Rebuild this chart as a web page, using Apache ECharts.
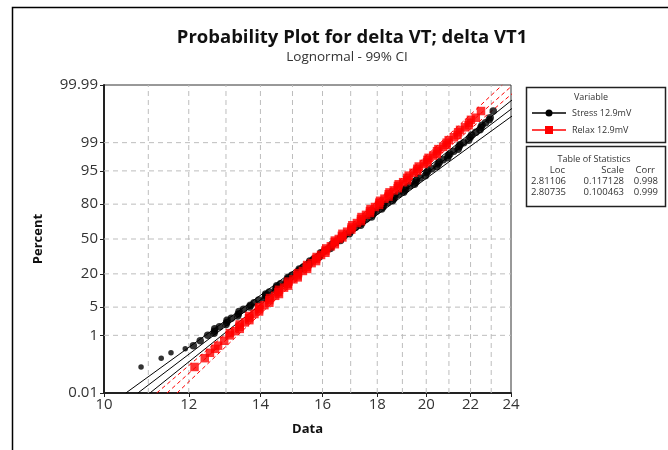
<!DOCTYPE html>
<html><head><meta charset="utf-8">
<script src="https://cdn.jsdelivr.net/npm/echarts@6/dist/echarts.min.js"></script>
<style>html,body{margin:0;padding:0;background:#fff}#c{width:668px;height:450px}</style>
</head><body><div id="c"></div>
<script>
// ---- data (x in data units, percent in %) ----
const xTickLabels = [10, 12, 14, 16, 18, 20, 22, 24];
const xGridValues = [11, 12, 13, 14, 15, 16, 17, 18, 19, 20, 21, 22, 23];
const yTickLabels = [0.01, 1, 5, 20, 50, 80, 95, 99, 99.99];
const yGridValues = [1, 5, 20, 50, 80, 95, 99];

const percentPos = [0.1,0.2,0.3,0.4,0.5,0.7,1,1.3,1.7,2.2,2.8,3.5,4.5,5.5,7,8.5,10,12,14,16.5,19,22,25,28,31.5,35,39,43,47,50,53,57,61,65,68.5,72,75,78,81,83.5,86,88,90,91.5,93,94.5,95.5,96.5,97.2,97.8,98.3,98.7,99,99.3,99.5,99.65,99.75,99.83,99.9];
const stressX = [10.83,11.31,11.55,11.91,12.12,12.30,12.50,12.68,12.82,13.02,13.15,13.35,13.50,13.70,13.95,14.16,14.27,14.49,14.62,14.84,14.98,15.20,15.35,15.55,15.70,15.92,16.08,16.31,16.47,16.64,16.76,16.99,17.17,17.41,17.58,17.82,17.97,18.22,18.40,18.65,18.85,19.10,19.30,19.55,19.74,20.02,20.25,20.52,20.74,20.98,21.22,21.46,21.68,21.98,22.25,22.50,22.72,22.95,23.10];
const relaxX = [12.15,12.42,12.56,12.70,12.78,12.95,13.10,13.26,13.38,13.54,13.66,13.82,13.96,14.12,14.27,14.45,14.55,14.73,14.85,15.03,15.16,15.34,15.47,15.63,15.78,15.95,16.10,16.29,16.43,16.57,16.68,16.87,17.03,17.23,17.38,17.57,17.72,17.91,18.08,18.28,18.45,18.65,18.82,19.03,19.20,19.46,19.62,19.89,20.05,20.30,20.47,20.74,20.90,21.22,21.42,21.75,21.93,22.25,22.50];

// second set of plotted points (between the first set's positions)
const percentPos2 = [1.15,1.5,1.95,2.5,3.15,4,5,6.2,7.7,9.2,11,13,15.2,17.7,20.5,23.5,26.5,29.7,33.2,37,41,45,48.5,51.5,55,59,63,66.7,70.2,73.5,76.5,79.5,82.2,84.7,87,89,90.7,92.2,93.7,95,96,96.8,97.5,98,98.5,98.85,99.15,99.4,99.58,99.7,99.8];
const stressX2 = [12.67,12.69,13.00,13.03,13.33,13.37,13.68,13.81,14.14,14.16,14.46,14.50,14.81,14.85,15.17,15.22,15.53,15.57,15.89,15.94,16.27,16.33,16.63,16.64,16.95,17.02,17.37,17.44,17.78,17.84,18.17,18.25,18.60,18.69,19.05,19.14,19.50,19.58,19.96,20.07,20.46,20.57,20.94,21.04,21.42,21.51,21.91,22.05,22.45,22.55,22.90];
const relaxX2 = [13.11,13.39,13.39,13.67,13.67,13.96,13.97,14.27,14.29,14.57,14.57,14.86,14.87,15.17,15.18,15.48,15.48,15.78,15.80,16.10,16.13,16.43,16.43,16.70,16.70,17.02,17.06,17.38,17.40,17.72,17.74,18.07,18.11,18.44,18.48,18.81,18.85,19.19,19.26,19.61,19.68,20.04,20.10,20.46,20.53,20.89,20.99,21.39,21.51,21.91,22.02];

// fitted lines and 99% CI, as [x, percent]
const stressFit  = [[10.756,0.01],[16.628,50],[25.70,99.99]];
const stressCiLo = [[10.481,0.01],[12.439,1],[14.133,10],[16.476,50],[19.083,90],[21.453,99],[25.04,99.99]];
const stressCiHi = [[11.038,0.01],[12.888,1],[14.489,10],[16.782,50],[19.563,90],[22.226,99],[26.37,99.99]];
const relaxFit   = [[11.45,0.01],[16.566,50],[24.10,99.99]];
const relaxCiLo  = [[11.20,0.01],[12.95,1],[14.414,10],[16.439,50],[18.649,90],[20.621,99],[23.555,99.99]];
const relaxCiHi  = [[11.70,0.01],[13.33,1],[14.716,10],[16.693,50],[19.039,90],[21.240,99],[24.596,99.99]];

const statsHeader = ['Loc','Scale','Corr'];
const statsRows = [['2.81106','0.117128','0.998'],['2.80735','0.100463','0.999']];

// ---- scales ----
function probit(p){
  const a=[-3.969683028665376e+01,2.209460984245205e+02,-2.759285104469687e+02,1.383577518672690e+02,-3.066479806614716e+01,2.506628277459239e+00];
  const b=[-5.447609879822406e+01,1.615858368580409e+02,-1.556989798598866e+02,6.680131188771972e+01,-1.328068155288572e+01];
  const c=[-7.784894002430293e-03,-3.223964580411365e-01,-2.400758277161838e+00,-2.549732539343734e+00,4.374664141464968e+00,2.938163982698783e+00];
  const d=[7.784695709041462e-03,3.224671290700398e-01,2.445134137142996e+00,3.754408661907416e+00];
  const pl=0.02425, ph=1-pl; let q,r;
  if(p<pl){q=Math.sqrt(-2*Math.log(p));return (((((c[0]*q+c[1])*q+c[2])*q+c[3])*q+c[4])*q+c[5])/((((d[0]*q+d[1])*q+d[2])*q+d[3])*q+1);}
  if(p<=ph){q=p-0.5;r=q*q;return (((((a[0]*r+a[1])*r+a[2])*r+a[3])*r+a[4])*r+a[5])*q/(((((b[0]*r+b[1])*r+b[2])*r+b[3])*r+b[4])*r+1);}
  q=Math.sqrt(-2*Math.log(1-p));return -(((((c[0]*q+c[1])*q+c[2])*q+c[3])*q+c[4])*q+c[5])/((((d[0]*q+d[1])*q+d[2])*q+d[3])*q+1);
}
const zOf = pct => probit(pct/100);
const lx = v => Math.log(v);
const pt = (x,p) => [lx(x), zOf(p)];
const X_MIN = lx(10), X_MAX = lx(24), Y_MIN = zOf(0.01), Y_MAX = zOf(99.99);

const gridSeries = [];
xGridValues.forEach(v => gridSeries.push({type:'line', data:[[lx(v),Y_MIN],[lx(v),Y_MAX]], symbol:'none', silent:true, z:1,
  lineStyle:{color:'#bdbdbd', width:1, type:[5,4]}}));
yGridValues.forEach(v => gridSeries.push({type:'line', data:[[X_MIN,zOf(v)],[X_MAX,zOf(v)]], symbol:'none', silent:true, z:1,
  lineStyle:{color:'#bdbdbd', width:1, type:[5,4]}}));

const lineS = (arr, color, dashed) => ({type:'line', data:arr.map(a=>pt(a[0],a[1])), symbol:'none', silent:true, z:3,
  lineStyle:{color, width:1, type: dashed ? [4,3] : 'solid'}});

const stressPts = stressX.map((x,i)=>pt(x,percentPos[i])).concat(stressX2.map((x,i)=>pt(x,percentPos2[i])));
const relaxPts = relaxX.map((x,i)=>pt(x,percentPos[i])).concat(relaxX2.map((x,i)=>pt(x,percentPos2[i])));

const font = '"Open Sans", "Noto Sans", sans-serif';
const txt = (x,y,text,size,align,weight,fill) => ({type:'text', x, y, silent:true, style:{text, font:(weight||'normal')+' '+size+'px '+font, fill:fill||'#333',
  align:align, verticalAlign:'middle', textAlign:align, textVerticalAlign:'middle'}});

const chart = echarts.init(document.getElementById('c'), null, {renderer:'canvas'});
chart.setOption({
  animation:false,
  backgroundColor:'#fff',
  grid:{left:104, top:85, width:407, height:308, show:true, borderColor:'#333', borderWidth:1},
  xAxis:{type:'value', min:X_MIN, max:X_MAX, name:'Data', nameLocation:'middle', nameGap:30,
    nameTextStyle:{fontFamily:font, fontWeight:'bold', fontSize:13, color:'#111'},
    axisLine:{show:true, onZero:false, lineStyle:{color:'#222', width:2}},
    axisTick:{show:true, length:4, customValues:xTickLabels.map(lx), lineStyle:{color:'#222'}},
    axisLabel:{customValues:xTickLabels.map(lx), formatter:v=>String(Math.round(Math.exp(v))), fontFamily:font, fontSize:15, color:'#333', margin:4},
    splitLine:{show:false}},
  yAxis:{type:'value', min:Y_MIN, max:Y_MAX, name:'Percent', nameLocation:'middle', nameGap:59,
    nameTextStyle:{fontFamily:font, fontWeight:'bold', fontSize:13, color:'#111'},
    axisLine:{show:true, onZero:false, lineStyle:{color:'#222', width:2}},
    axisTick:{show:true, length:4, customValues:yTickLabels.map(zOf), lineStyle:{color:'#222'}},
    axisLabel:{customValues:yTickLabels.map(zOf), fontFamily:font, fontSize:15, color:'#333', margin:6,
      formatter:v=>{let best=yTickLabels[0];yTickLabels.forEach(l=>{if(Math.abs(zOf(l)-v)<Math.abs(zOf(best)-v))best=l;});
        return (best===0.01||best===99.99)?best.toFixed(2):String(best);}},
    splitLine:{show:false}},
  series:[
    ...gridSeries,
    lineS(stressFit,'#000',false), lineS(stressCiLo,'#000',false), lineS(stressCiHi,'#000',false),
    {type:'scatter', name:'Stress 12.9mV', data:stressPts, symbol:'circle',
      symbolSize:(v,p)=> p.dataIndex<4 ? 5.5 : 7.5,
      itemStyle:{color:'#000'}, z:4, silent:true},
    lineS(relaxFit,'#ff0000',true), lineS(relaxCiLo,'#ff0000',true), lineS(relaxCiHi,'#ff0000',true),
    {type:'scatter', name:'Relax 12.9mV', data:relaxPts, symbol:'rect', symbolSize:8.5,
      itemStyle:{color:'#ff0000'}, z:5, silent:true}
  ],
  graphic:[
    {type:'rect', shape:{x:12.5,y:7.5,width:700,height:500}, style:{fill:'none', stroke:'#000', lineWidth:1.5}, silent:true},
    txt(352, 38, 'Probability Plot for delta VT; delta VT1', 18.5, 'center', 'bold', '#111'),
    txt(347, 57, 'Lognormal - 99% CI', 13.5, 'center', 'normal', '#333'),
    // legend box
    {type:'rect', shape:{x:526.5,y:87.5,width:139,height:55}, style:{fill:'#fff', stroke:'#222', lineWidth:1.5}},
    txt(591, 97, 'Variable', 9, 'center'),
    {type:'line', shape:{x1:532,y1:113,x2:566,y2:113}, style:{stroke:'#000', lineWidth:1.5}},
    {type:'circle', shape:{cx:549,cy:113,r:3.5}, style:{fill:'#000'}},
    txt(572, 113, 'Stress 12.9mV', 9, 'left'),
    {type:'line', shape:{x1:532,y1:130,x2:566,y2:130}, style:{stroke:'#ff0000', lineWidth:1.5}},
    {type:'rect', shape:{x:545,y:126,width:8,height:8}, style:{fill:'#ff0000'}},
    txt(572, 130, 'Relax 12.9mV', 9, 'left'),
    // stats box
    {type:'rect', shape:{x:526.5,y:146.5,width:139,height:60}, style:{fill:'#fff', stroke:'#222', lineWidth:1.5}},
    txt(594, 159, 'Table of Statistics', 9, 'center'),
    txt(565, 170, statsHeader[0], 9.5, 'right'),
    txt(624, 170, statsHeader[1], 9.5, 'right'),
    txt(655, 170, statsHeader[2], 9.5, 'right'),
    ...statsRows.flatMap((r,i)=>[
      txt(566, 181+i*11, r[0], 9.5, 'right'),
      txt(624, 181+i*11, r[1], 9.5, 'right'),
      txt(658, 181+i*11, r[2], 9.5, 'right')
    ])
  ]
});
</script></body></html>
